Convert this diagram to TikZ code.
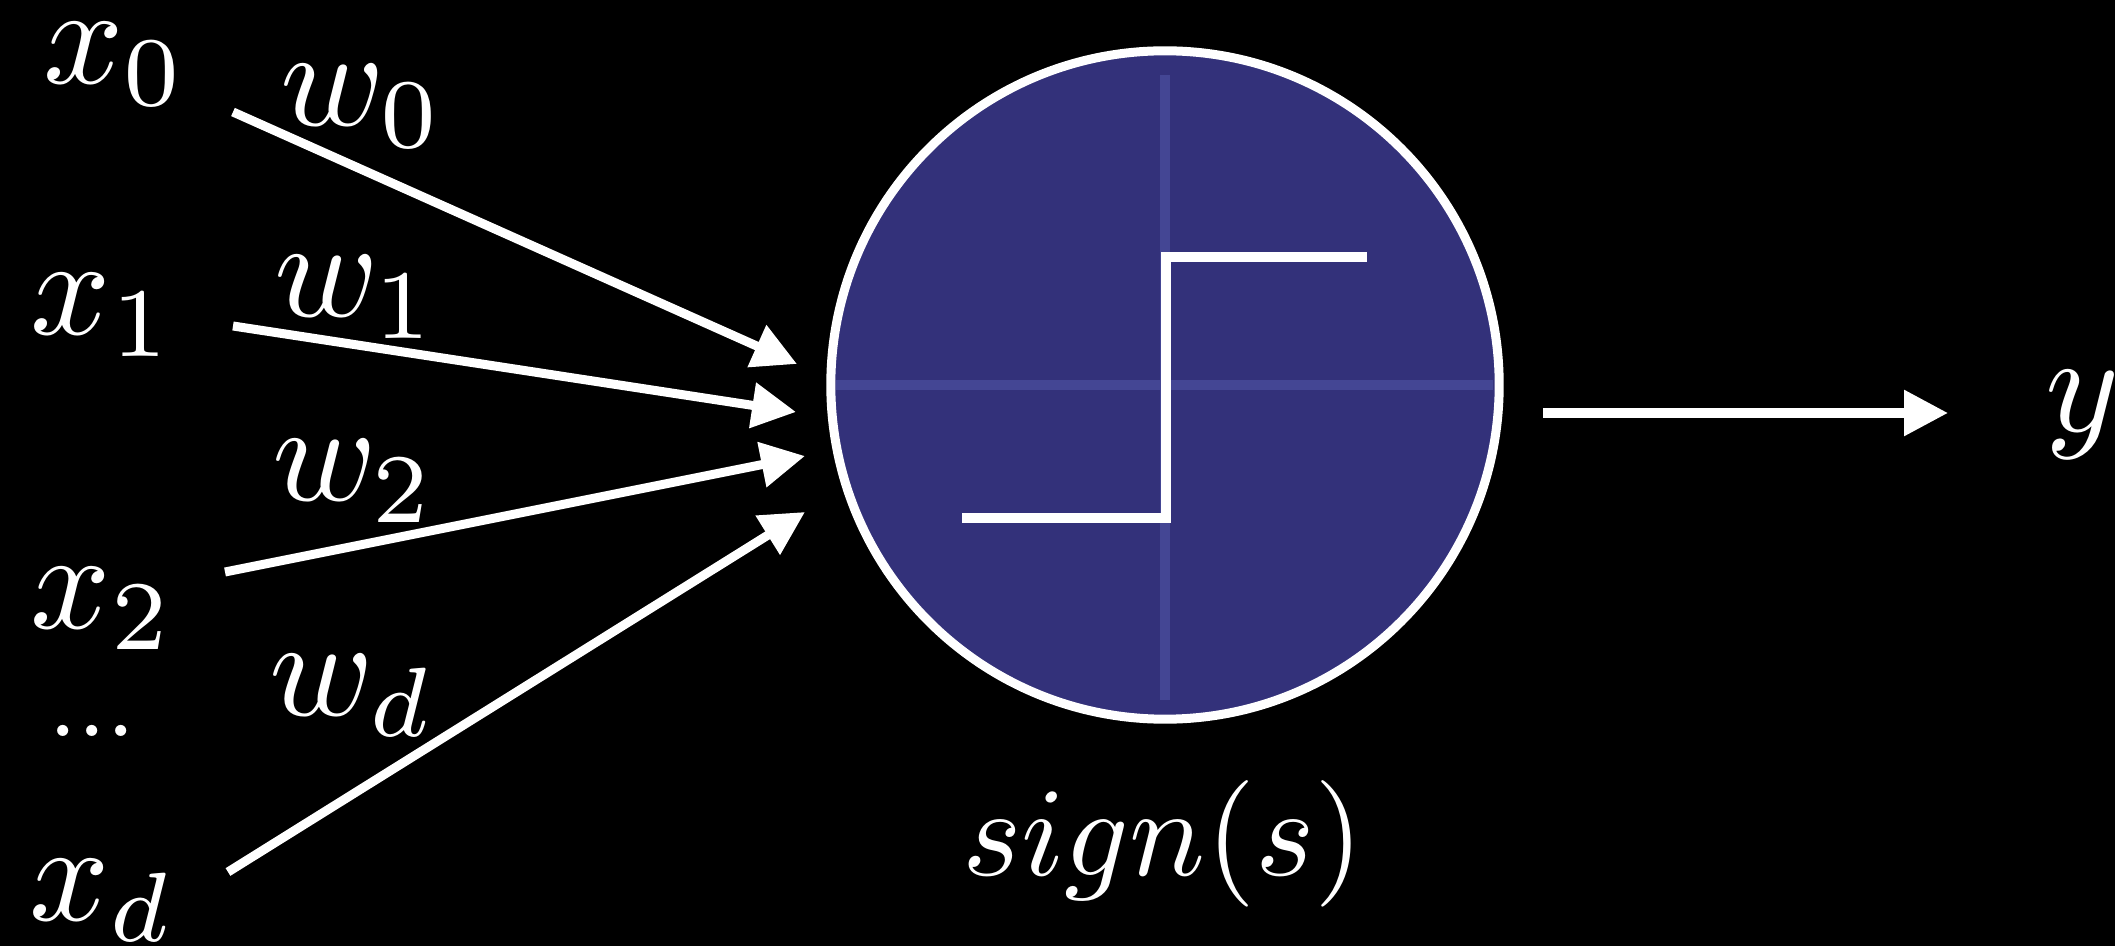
\documentclass[tikz,border=0pt]{standalone}
\usetikzlibrary{arrows.meta}
\definecolor{cell}{HTML}{33317A}
\definecolor{cellgrid}{HTML}{444694}

\begin{document}
\begin{tikzpicture}[x=0.01cm, y=-0.01cm, >={Triangle[length=12.5pt, width=12.5pt]},
    lab/.style={white, inner sep=0pt, outer sep=0pt, anchor=base west, font=\normalsize, scale=4},
    wire/.style={->, white, line width=0.09cm}]
  \fill[black, use as bounding box] (0,0) rectangle (2115,946);
  % inputs, weights and their wires
  \foreach \i/\xx/\xy/\wx/\wy/\sx/\sy/\tx/\ty in {0/43/84/280/126/233/112/797/364, 1/31/335/274/317/233/326/796/412, 2/31/628/272/501/225/572/805/456, d/29/920/269/715/228/872/805/512} {
    \node[lab] (x\i) at (\xx,\xy) {$x_\i$};
    \node[lab] (w\i) at (\wx,\wy) {$w_\i$};
    \coordinate (s\i) at (\sx,\sy);
    \coordinate (t\i) at (\tx,\ty);
    \draw[wire] (s\i) -- (t\i);
  }
  \node[lab, scale=0.75] (dots) at (48,736) {...};
  % the unit
  \node[circle, draw=white, fill=cell, line width=0.09cm, minimum size=6.68cm, inner sep=0pt] (cell) at (1165,385) {};
  \draw[cellgrid, line width=0.1cm] (836,385) -- (1493,385);
  \draw[cellgrid, line width=0.1cm] (1165,75) -- (1165,700);
  \draw[white, line width=0.105cm] (962,518) -- (1166,518) -- (1166,257) -- (1367,257);
  \node[lab, anchor=base, scale=0.9] (act) at (1163,875) {$sign(s)$};
  % output
  \coordinate (o1) at (1543,413);
  \coordinate (o2) at (1948,413);
  \draw[wire] (o1) -- (o2);
  \node[lab] (y) at (2045,432) {$y$};
\end{tikzpicture}
\end{document}
